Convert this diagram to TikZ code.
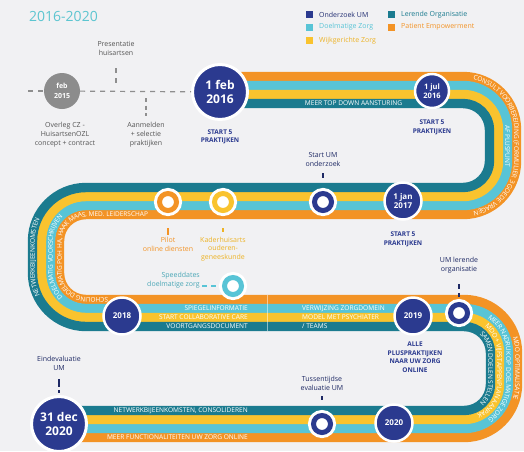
\documentclass[tikz,border=0pt]{standalone}
\usepackage{fontspec}
\setmainfont{Open Sans}
\usetikzlibrary{decorations.text}
\definecolor{navy}{HTML}{2B3A8F}
\definecolor{teal}{HTML}{1B7B8F}
\definecolor{cyan}{HTML}{58C4D6}
\definecolor{yell}{HTML}{F9C32E}
\definecolor{oran}{HTML}{F39325}
\definecolor{bggray}{HTML}{F1F1F3}
\definecolor{txtgray}{HTML}{555555}
\definecolor{dotgray}{HTML}{8E8E8E}
\definecolor{circgray}{HTML}{8C8C8C}
\definecolor{titlecyan}{HTML}{5CC5D0}
\definecolor{gold}{HTML}{EDB326}
\newcommand\bandfmt{\fontsize{6.5}{7}\selectfont\color{white}}
\newcommand\ribbonstripe[2]{%
\draw[line width=9.4pt, #2] (220,{90-(#1)}) -- (463,{90-(#1)})
  arc[start angle=-90, end angle=0, radius={40+(#1)}] -- ({503+(#1)},161)
  arc[start angle=0, end angle=90, radius={40+(#1)}] -- (86,{201+(#1)})
  arc[start angle=-90, end angle=-180, radius={40-(#1)}] -- ({46+(#1)},273)
  arc[start angle=180, end angle=90, radius={40-(#1)}] -- (464,{313-(#1)})
  arc[start angle=-90, end angle=0, radius={40+(#1)}] -- ({504+(#1)},384)
  arc[start angle=0, end angle=90, radius={40+(#1)}] -- (59,{424+(#1)});}
\begin{document}
\begin{tikzpicture}[x=1pt,y=-1pt,
  lbl/.style={font=\fontsize{7}{9}\selectfont, text=txtgray, align=center, inner sep=1pt},
  milestone/.style={font=\fontsize{6.5}{8.5}\selectfont\bfseries, text=navy, align=center, inner sep=1pt},
  bigdate/.style={circle, fill=navy, draw=white, line width=3pt, text=white, minimum size=55pt, inner sep=0pt, align=center, font=\fontsize{12}{14}\selectfont\bfseries},
  middate/.style={circle, fill=navy, draw=white, line width=2.5pt, text=white, minimum size=37pt, inner sep=0pt, align=center, font=\fontsize{8}{9.5}\selectfont\bfseries},
  ringmark/.style={circle, minimum size=17pt, inner sep=0pt, outer sep=0pt, draw=#1, line width=5pt, fill=white, preaction={draw=white, fill=white, line width=11pt}},
  bandlbl/.style={font=\fontsize{6.6}{7}\selectfont, text=white, inner sep=0pt, text height=4.7pt, text depth=0pt},
  bandtext/.style={decorate, decoration={text along path, text align=center, raise=-2.3pt, text={|\bandfmt|#1}}},
  legsq/.style={rectangle, minimum size=7pt, inner sep=0pt},
  legtxt/.style={font=\fontsize{7}{8}\selectfont, anchor=west, inner sep=0pt},
  tick/.style={line width=1.3pt},
  graydash/.style={line width=1.2pt, dotgray, dash pattern=on 5pt off 5pt}
]
\useasboundingbox (0,0) rectangle (524,451);
\fill[bggray] (0,0) rectangle (524,451);

% title and legend
\node[anchor=west, font=\fontsize{14}{16}\selectfont, text=titlecyan, inner sep=0pt] (title) at (29,16) {2016-2020};
\node[legsq, fill=navy] (lq1) at (309,14.5) {};
\node[legtxt, text=navy!80!black] (lt1) at (319,14.5) {Onderzoek UM};
\node[legsq, fill=cyan] (lq2) at (309,27) {};
\node[legtxt, text=cyan] (lt2) at (319,27) {Doelmatige Zorg};
\node[legsq, fill=yell] (lq3) at (309,40.5) {};
\node[legtxt, text=gold] (lt3) at (319,40.5) {Wijkgerichte Zorg};
\node[legsq, fill=teal] (lq4) at (391.5,14.5) {};
\node[legtxt, text=teal] (lt4) at (401,14.5) {Lerende Organisatie};
\node[legsq, fill=oran] (lq5) at (391.5,27) {};
\node[legtxt, text=oran] (lt5) at (401,27) {Patient Empowerment};

% ribbon
\ribbonstripe{13.5}{oran}
\ribbonstripe{4.5}{cyan}
\ribbonstripe{-4.5}{yell}
\ribbonstripe{-13.5}{teal}
\draw[white, opacity=.5, line width=.6pt] (267,295) -- (267,331);

% straight band labels
\node[bandlbl] (t1) at (353.5,103.5) {MEER TOP DOWN AANSTURING};
\node[bandlbl, anchor=east] (t3a) at (248,308.5) {SPIEGELINFORMATIE};
\node[bandlbl, anchor=east] (t3b) at (248,317.5) {START COLLABORATIVE CARE};
\node[bandlbl, anchor=east] (t3c) at (248,326.5) {VOORTGANGSDOCUMENT};
\node[bandlbl, anchor=west] (t3d) at (302,308.5) {VERWIJZING ZORGDOMEIN};
\node[bandlbl, anchor=west] (t3e) at (302,317.5) {MODEL MET PSYCHIATER};
\node[bandlbl, anchor=west] (t3f) at (302,326.5) {/ TEAMS};
\node[bandlbl, anchor=east] (t4a) at (248,410.5) {NETWERKBIJEENKOMSTEN, CONSOLIDEREN};
\node[bandlbl, anchor=east] (t4b) at (248,437.5) {MEER FUNCTIONALITEITEN UW ZORG ONLINE};

% curved band labels
\path[bandtext={CONSULT VOORBEREIDING (FORMULIER 3 GOEDE VRAGEN}] (452,76.5) -- (463,76.5) arc[start angle=-90,end angle=0,radius=53.5] -- (516.5,161) arc[start angle=0,end angle=90,radius=53.5] -- (452,214.5);
\path[bandtext={AF PLUSPUNT}] (507.5,115) -- (507.5,177);
\path[bandtext={NETWERKBIJEENKOMSTEN}] (86,326.5) arc[start angle=90,end angle=180,radius=53.5] -- (32.5,241) arc[start angle=180,end angle=270,radius=53.5];
\path[bandtext={DOELMATIG VOORSCHRIJVEN}] (86,308.5) arc[start angle=90,end angle=180,radius=35.5] -- (50.5,241) arc[start angle=180,end angle=270,radius=35.5];
\path[decorate, decoration={text along path, text align=left, raise=-2.3pt, text={|\bandfmt|SCHOLING DOELMATIG POH HA, HAAK MAAS, MED. LEIDERSCHAP}}] (108,299.5) -- (86,299.5) arc[start angle=90,end angle=180,radius=26.5] -- (59.5,241) arc[start angle=180,end angle=270,radius=26.5] -- (190,214.5);
\path[bandtext={MDO OPTIMALISATIE}] (464,299.5) arc[start angle=-90,end angle=0,radius=53.5] -- (517.5,384) arc[start angle=0,end angle=90,radius=53.5];
\path[bandtext={MEER NADRUK OP DOELMATIGE ZORG}] (455,308.5) -- (464,308.5) arc[start angle=-90,end angle=0,radius=44.5] -- (508.5,384) arc[start angle=0,end angle=90,radius=44.5] -- (455,428.5);
\path[bandtext={MDO + VIJFSTAPPENPLAN AANPAK}] (455,317.5) -- (464,317.5) arc[start angle=-90,end angle=0,radius=35.5] -- (499.5,384) arc[start angle=0,end angle=90,radius=35.5] -- (445,419.5);
\path[bandtext={SAMEN DOELEN STELLEN}] (464,326.5) arc[start angle=-90,end angle=0,radius=26.5] -- (490.5,384) arc[start angle=0,end angle=90,radius=26.5];

% date circles
\node[circle, fill=circgray, minimum size=36pt, inner sep=0pt, text=white, align=center, font=\fontsize{7}{10}\selectfont\bfseries] (feb15) at (62,91) {feb\\2015};
\node[bigdate] (feb16) at (220,92) {1 feb\\2016};
\node[middate, minimum size=34pt, font=\fontsize{7.5}{9}\selectfont\bfseries] (jul16) at (432,91) {1 jul\\2016};
\node[middate] (jan17) at (403,201) {1 jan\\2017};
\node[middate] (y2018) at (122,316) {2018};
\node[middate] (y2019) at (413,316) {2019};
\node[middate] (y2020) at (394,423) {2020};
\node[bigdate] (dec20) at (59,424) {31 dec\\2020};

% ring markers
\node[ringmark=oran] (pilotring) at (168,202) {};
\node[ringmark=yell] (kaderring) at (223,202) {};
\node[ringmark=navy] (umring) at (323,202) {};
\node[ringmark=cyan] (speedring) at (233,286) {};
\node[ringmark=navy] (lerring) at (459,313) {};
\node[ringmark=navy] (tussring) at (322,424) {};

% labels
\node[lbl] (pres) at (116,48) {Presentatie\\huisartsen};
\node[lbl] (aanm) at (146,135) {Aanmelden\\+ selectie\\praktijken};
\node[lbl] (overleg) at (65,135) {Overleg CZ -\\HuisartsenOZL\\concept + contract};
\node[milestone] (start1) at (220,137) {START 5\\PRAKTIJKEN};
\node[milestone] (start2) at (432,127.5) {START 5\\PRAKTIJKEN};
\node[milestone] (start3) at (403,239.5) {START 5\\PRAKTIJKEN};
\node[milestone] (alle) at (415,357) {ALLE\\PLUSPRAKTIJKEN\\NAAR UW ZORG\\ONLINE};
\node[lbl, text=navy!70!black] (startum) at (323,159.5) {Start UM\\onderzoek};
\node[lbl, text=navy!70!black] (umler) at (459,265.5) {UM lerende\\organisatie};
\node[lbl, text=navy!70!black] (tuss) at (322,383) {Tussentijdse\\evaluatie UM};
\node[lbl, text=navy!70!black] (eind) at (59,363.5) {Eindevaluatie\\UM};
\node[lbl, text=oran] (pilot) at (168,244.5) {Pilot\\online diensten};
\node[lbl, text=gold, font=\fontsize{7}{8.7}\selectfont] (kader) at (223,249) {Kaderhuisarts\\ouderen-\\geneeskunde};
\node[lbl, text=cyan!85!black, align=right, anchor=east] (speed) at (201,280.5) {Speeddates\\doelmatige zorg};

% timeline and ticks
\coordinate (tlstart) at (28,91);
\coordinate (presend) at (116,83);
\coordinate (aanmstart) at (146,98);
\draw[graydash] (tlstart) -- (feb15);
\draw[graydash] (feb15) -- (feb16);
\draw[graydash, shorten <=12pt] (pres) -- (presend);
\draw[graydash, dash pattern=on 4pt off 3.5pt, shorten >=5pt] (aanmstart) -- (aanm);
\draw[tick, navy!70!black, shorten <=5.5pt, shorten >=15.5pt] (startum) -- (umring);
\draw[tick, navy!70!black, dash pattern=on 5pt off 4pt, shorten <=9.5pt, shorten >=7.5pt] (umler) -- (lerring);
\draw[tick, navy!70!black, shorten <=5pt, shorten >=16pt] (tuss) -- (tussring);
\draw[tick, navy!70!black, dash pattern=on 8pt off 3pt, shorten <=7.5pt, shorten >=2pt] (eind) -- (dec20);
\draw[tick, oran, shorten <=17.5pt, shorten >=1.5pt] (pilotring) -- (pilot);
\draw[tick, gold, shorten <=17.5pt, shorten >=4pt] (kaderring) -- (kader);
\draw[tick, cyan, dash pattern=on 5pt off 4pt, shorten <=1pt, shorten >=5.5pt] (speed.east |- speedring) -- (speedring);
\end{tikzpicture}
\end{document}
